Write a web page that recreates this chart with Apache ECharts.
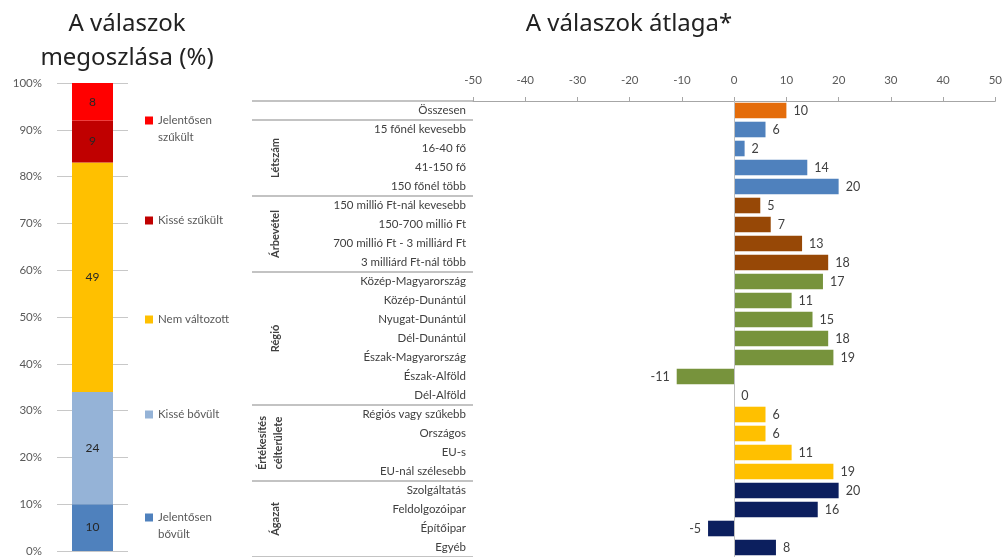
<!DOCTYPE html>
<html>
<head>
<meta charset="utf-8">
<script src="https://cdn.jsdelivr.net/npm/echarts@6/dist/echarts.min.js"></script>
<style>
  html, body { margin: 0; padding: 0; background: #fff; }
  #chart { width: 1005px; height: 557px; }
</style>
</head>
<body>
<div id="chart"></div>
<script>
// Distribution of answers (%), stacked bottom to top
const shareNames = ['Jelentősen bővült', 'Kissé bővült', 'Nem változott', 'Kissé szűkült', 'Jelentősen szűkült'];
const shareValues = [10, 24, 49, 9, 8];
const shareColors = ['#4f81bd', '#95b3d7', '#ffc000', '#c00000', '#ff0000'];

// Average of answers by respondent group
const categories = [
  'Összesen',
  '15 főnél kevesebb', '16-40 fő', '41-150 fő', '150 főnél több',
  '150 millió Ft-nál kevesebb', '150-700 millió Ft', '700 millió Ft - 3 milliárd Ft', '3 milliárd Ft-nál több',
  'Közép-Magyarország', 'Közép-Dunántúl', 'Nyugat-Dunántúl', 'Dél-Dunántúl', 'Észak-Magyarország', 'Észak-Alföld', 'Dél-Alföld',
  'Régiós vagy szűkebb', 'Országos', 'EU-s', 'EU-nál szélesebb',
  'Szolgáltatás', 'Feldolgozóipar', 'Építőipar', 'Egyéb'
];
const averages = [10, 6, 2, 14, 20, 5, 7, 13, 18, 17, 11, 15, 18, 19, -11, 0, 6, 6, 11, 19, 20, 16, -5, 8];
const groupNames = ['', 'Létszám', 'Árbevétel', 'Régió', 'Értékesítés\ncélterülete', 'Ágazat'];
const groupSizes = [1, 4, 4, 7, 4, 4];
const groupColors = ['#e46c0a', '#4f81bd', '#974806', '#77933c', '#ffc000', '#0c1f5e'];

// first category index of each group
const groupStarts = [];
groupSizes.reduce((acc, n) => { groupStarts.push(acc); return acc + n; }, 0);
const barColors = [];
groupSizes.forEach((n, g) => { for (let i = 0; i < n; i++) barColors.push(groupColors[g]); });

const font = 'Lato, "Liberation Sans", sans-serif';
const titleFont = '"Noto Sans", "Open Sans", sans-serif';

// legend rows from top to bottom: the stack is listed in reverse
const legendTops = [90, 207, 306, 401, 487];
const isTwoLine = name => name.startsWith('Jelentősen');

const legends = shareNames.map((name, i) => ({
  data: [name],
  left: 140,
  top: legendTops[shareNames.length - 1 - i],
  orient: 'vertical',
  itemWidth: 8,
  itemHeight: 8,
  itemGap: 0,
  selectedMode: false,
  icon: 'rect',
  // a leading blank line keeps the swatch level with the first line of text
  formatter: n => isTwoLine(n) ? '\n' + n.replace('Jelentősen ', 'Jelentősen\n') : n,
  textStyle: { fontFamily: font, fontSize: 11.5, color: '#595959', lineHeight: 17 }
}));

const chart = echarts.init(document.getElementById('chart'), null, { renderer: 'canvas' });

const titleStyle = { fontFamily: titleFont, fontSize: 24, fontWeight: 'normal', color: '#222', lineHeight: 34 };

const option = {
  animation: false,
  backgroundColor: '#fff',
  title: [
    { text: 'A válaszok\nmegoszlása (%)', left: 122, top: 2, textAlign: 'center', textStyle: titleStyle },
    { text: 'A válaszok átlaga*', left: 624, top: 2, textAlign: 'center', textStyle: titleStyle }
  ],
  legend: legends,
  grid: [
    { left: 57, width: 71, top: 83, bottom: 3 },
    { left: 473, right: 7, top: 101, height: 457 }
  ],
  xAxis: [
    { gridIndex: 0, type: 'category', data: [''], show: false },
    { gridIndex: 1, type: 'value', position: 'top', min: -50, max: 50, interval: 10,
      axisLine: { show: true, lineStyle: { color: '#a6a6a6', width: 1 } },
      axisTick: { show: true, length: 4, lineStyle: { color: '#a6a6a6' } },
      axisLabel: { fontFamily: font, fontSize: 11.5, color: '#595959', margin: 15 },
      splitLine: { show: false } }
  ],
  yAxis: [
    { gridIndex: 0, type: 'value', min: 0, max: 100, interval: 10,
      axisLine: { show: false }, axisTick: { show: false },
      axisLabel: { formatter: '{value}%', fontFamily: font, fontSize: 11.5, color: '#595959', margin: 15 },
      splitLine: { show: true, lineStyle: { color: '#c8c8c8', width: 1 } } },
    { gridIndex: 1, type: 'category', data: categories, inverse: true,
      axisLine: { show: false, onZero: false },
      axisTick: { show: true, length: 221, interval: idx => groupStarts.includes(idx),
                  lineStyle: { color: '#b0b0b0', width: 1.5 } },
      axisLabel: { fontFamily: font, fontSize: 11.5, color: '#404040', margin: 7, interval: 0 } }
  ],
  series: [
    ...shareNames.map((name, i) => ({
      name, type: 'bar', stack: 'share', xAxisIndex: 0, yAxisIndex: 0,
      barWidth: 41,
      data: [shareValues[i]],
      itemStyle: { color: shareColors[i] },
      label: { show: true, position: 'inside', fontFamily: font, fontSize: 12, color: '#262626' }
    })),
    {
      type: 'bar', xAxisIndex: 1, yAxisIndex: 1,
      barCategoryGap: '18%',
      data: averages.map((v, i) => ({
        value: v,
        itemStyle: { color: barColors[i] },
        // negative bars carry their value label on the left
        label: v < 0 ? { position: 'left' } : undefined
      })),
      label: { show: true, position: 'right', distance: 7, fontFamily: font, fontSize: 12.5, color: '#404040' },
      markLine: {
        silent: true, symbol: 'none', label: { show: false },
        lineStyle: { color: '#bfbfbf', width: 1, type: 'solid' },
        data: [{ xAxis: 0 }]
      }
    }
  ]
};

chart.setOption(option);

// rotated group names in the category table, centred on their rows
const groupGraphics = [];
groupNames.forEach((name, g) => {
  if (!name) return;
  const first = categories[groupStarts[g]];
  const last = categories[groupStarts[g] + groupSizes[g] - 1];
  const y0 = chart.convertToPixel({ yAxisIndex: 1 }, first);
  const y1 = chart.convertToPixel({ yAxisIndex: 1 }, last);
  groupGraphics.push({
    type: 'text',
    x: name.includes('\n') ? 270 : 275,
    y: (y0 + y1) / 2,
    rotation: Math.PI / 2,
    style: {
      text: name, fontFamily: font, fontSize: 11, fontWeight: 'bold', fill: '#404040',
      align: 'center', verticalAlign: 'middle', lineHeight: 16
    }
  });
});
chart.setOption({ graphic: groupGraphics });
</script>
</body>
</html>
